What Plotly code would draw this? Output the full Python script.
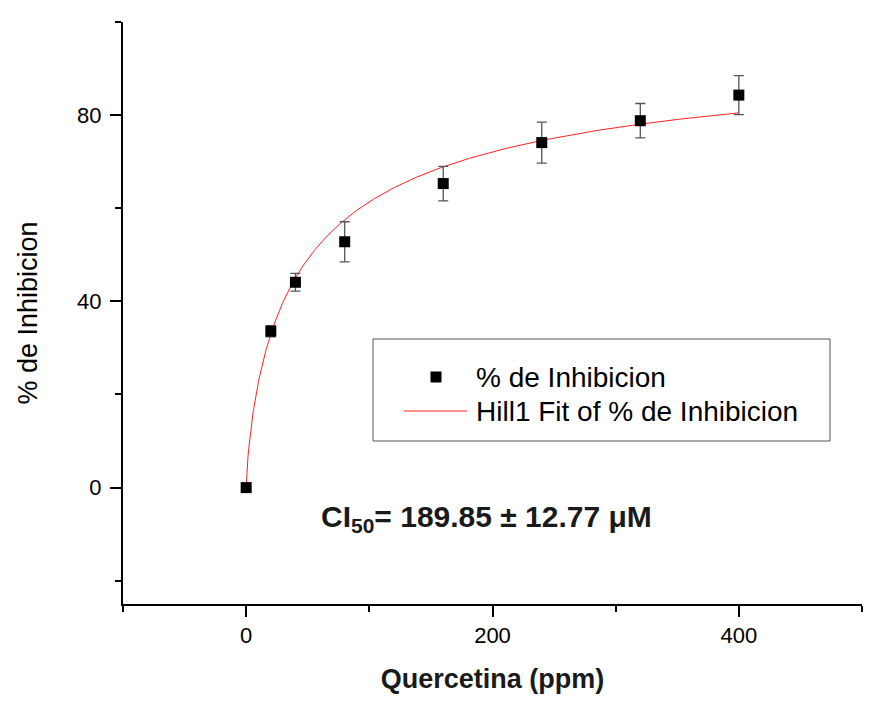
import numpy as np
import plotly.graph_objects as go

# Quercetin concentration (ppm) and measured inhibition (%), mean and SD
conc_ppm = [0, 20, 40, 80, 160, 240, 320, 400]
inhibition = [0.0, 33.6, 44.1, 52.8, 65.3, 74.1, 78.8, 84.3]
inhibition_sd = [0.0, 1.2, 1.9, 4.3, 3.7, 4.4, 3.7, 4.2]

# Hill1 fit parameters: y = START + (END - START) * x^n / (k^n + x^n)
hill_start = 0.0
hill_end = 97.0
hill_k = 48.4
hill_n = 0.75

x_ticks = [0, 200, 400]
y_ticks = [0, 40, 80]

legend_labels = ["% de Inhibicion", "Hill1 Fit of % de Inhibicion"]
ic50_text = "CI<sub>50</sub>= 189.85 ± 12.77 μM"
x_title = "Quercetina (ppm)"
y_title = "% de Inhibicion"

FONT = "Liberation Sans, Arial, Helvetica, sans-serif"

W, H = 881, 703
PLOT_L, PLOT_R, PLOT_T, PLOT_B = 123, 862, 22, 604


def fx(p):
    return (p - PLOT_L) / (PLOT_R - PLOT_L)


def fy(p):
    return (PLOT_B - p) / (PLOT_B - PLOT_T)


x_fit = np.linspace(0, max(conc_ppm), 801)
y_fit = hill_start + (hill_end - hill_start) * x_fit**hill_n / (hill_k**hill_n + x_fit**hill_n)

fig = go.Figure()

fig.add_trace(go.Scatter(
    x=x_fit, y=y_fit, mode="lines",
    line=dict(color="#ff2020", width=1),
    name=legend_labels[1], showlegend=False, hoverinfo="skip",
))

fig.add_trace(go.Scatter(
    x=conc_ppm, y=inhibition, mode="markers",
    marker=dict(symbol="square", size=11, color="black", line=dict(width=0)),
    error_y=dict(type="data", array=inhibition_sd, visible=True,
                 color="#555555", thickness=1.3, width=5),
    name=legend_labels[0], showlegend=False,
))

# Legend frame and entries
legend_box = dict(x0=373, x1=830, y0=339, y1=441)
fig.add_shape(type="rect", xref="paper", yref="paper",
              x0=fx(legend_box["x0"]), x1=fx(legend_box["x1"]),
              y0=fy(legend_box["y1"]), y1=fy(legend_box["y0"]),
              line=dict(color="#555555", width=1), fillcolor="white", layer="below")
fig.add_shape(type="rect", xref="paper", yref="paper",
              xsizemode="pixel", ysizemode="pixel",
              xanchor=fx(436), yanchor=fy(377),
              x0=-5.5, x1=5.5, y0=-5.5, y1=5.5,
              line=dict(width=0), fillcolor="black")
fig.add_shape(type="line", xref="paper", yref="paper",
              x0=fx(404), x1=fx(467), y0=fy(411), y1=fy(411),
              line=dict(color="#ff2020", width=1))
for label, ypix in zip(legend_labels, [377, 411]):
    fig.add_annotation(text=label, xref="paper", yref="paper",
                       x=fx(474), y=fy(ypix), xanchor="left", yanchor="middle",
                       showarrow=False, font=dict(family=FONT, size=28, color="black"))

fig.add_annotation(text="<b>" + ic50_text + "</b>", xref="paper", yref="paper",
                   x=fx(486), y=fy(518), xanchor="center", yanchor="middle",
                   showarrow=False, bgcolor="white", borderpad=12,
                   font=dict(family=FONT, size=30, color="#1a1a1a"))

axis_common = dict(
    showgrid=False, zeroline=False, showline=True, linecolor="black", linewidth=2,
    ticks="outside", ticklen=11, tickwidth=1.5, tickcolor="black",
    tickfont=dict(family=FONT, size=22, color="black"),
)

fig.update_xaxes(
    range=[-100, 500], tickmode="array", tickvals=x_ticks,
    ticktext=[str(v) for v in x_ticks],
    minor=dict(ticks="outside", ticklen=6, tickwidth=1.5, tickcolor="black",
               tickmode="linear", tick0=-100, dtick=200),
    title=dict(text="<b>" + x_title + "</b>", standoff=22,
               font=dict(family=FONT, size=27, color="#1a1a1a")),
    **axis_common,
)
fig.update_yaxes(
    range=[-25, 100], tickmode="array", tickvals=y_ticks,
    ticktext=[str(v) for v in y_ticks],
    minor=dict(ticks="outside", ticklen=6, tickwidth=1.5, tickcolor="black",
               tickmode="linear", tick0=-20, dtick=40),
    ticklabelstandoff=4,
    title=dict(text=y_title, standoff=32,
               font=dict(family=FONT, size=27, color="black")),
    **axis_common,
)

fig.update_layout(
    width=W, height=H,
    margin=dict(l=PLOT_L, r=W - PLOT_R, t=PLOT_T, b=H - PLOT_B, autoexpand=False),
    paper_bgcolor="white", plot_bgcolor="white",
    showlegend=False,
)

fig.write_html("out.html")
